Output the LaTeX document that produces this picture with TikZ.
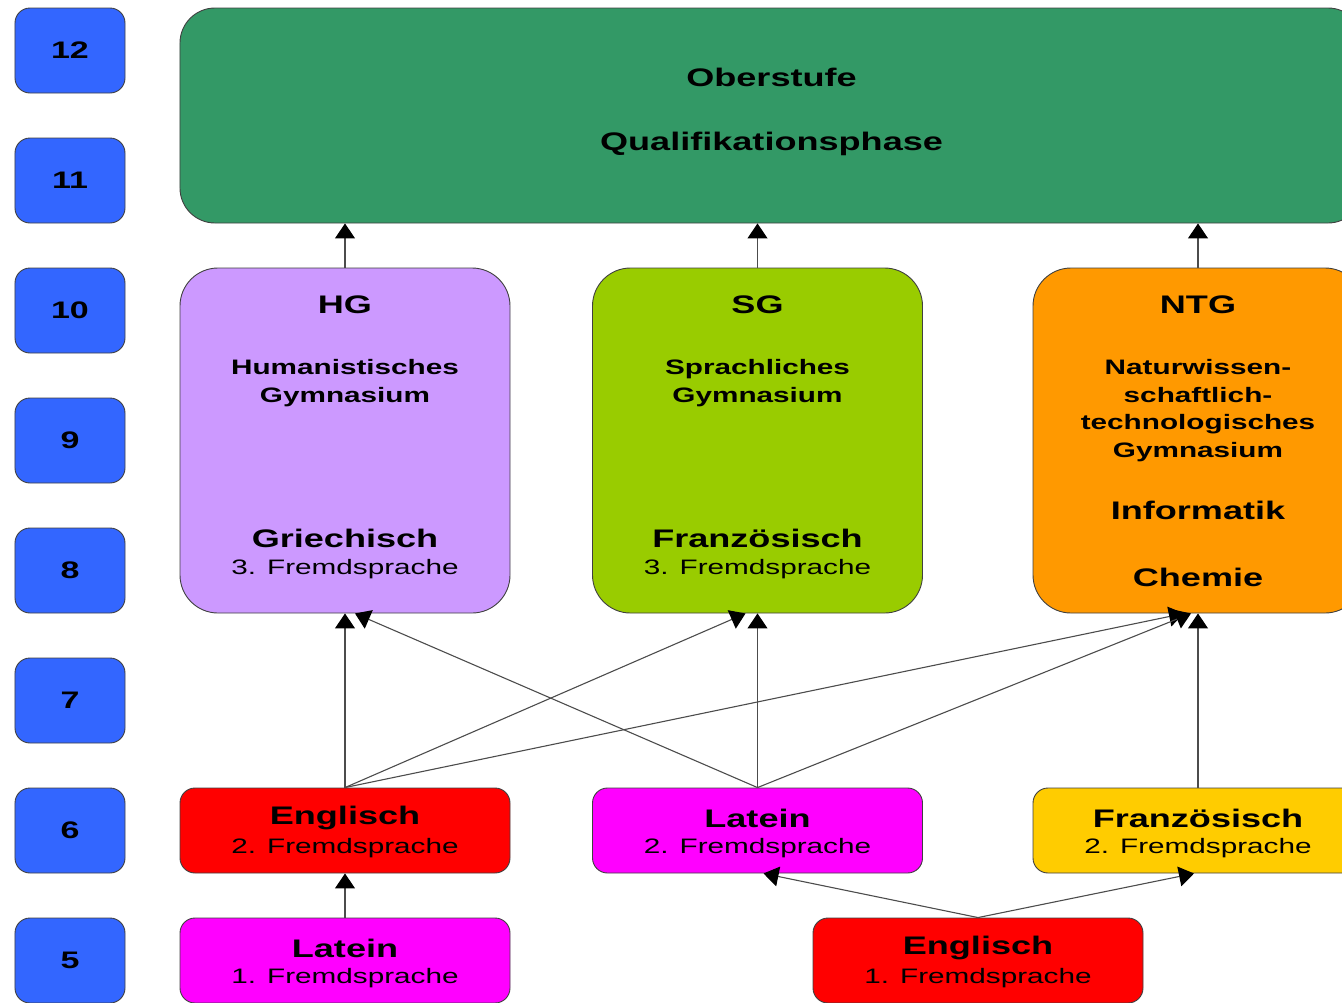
\documentclass[tikz,border=0pt]{standalone}
\usepackage{fontspec}
\setmainfont{Liberation Sans}[FakeStretch=1.42]
\usetikzlibrary{arrows.meta}

\definecolor{gradeblue}{HTML}{3366FF}
\definecolor{oberstufe}{HTML}{339966}
\definecolor{hgcol}{HTML}{CC99FF}
\definecolor{sgcol}{HTML}{99CC00}
\definecolor{ntgcol}{HTML}{FF9900}
\definecolor{engcol}{HTML}{FF0000}
\definecolor{latcol}{HTML}{FF00FF}
\definecolor{frzcol}{HTML}{FFCC00}

\begin{document}
\begin{tikzpicture}[x=1bp,y=-1bp,
	box/.style={draw=black!75,line width=0.9bp,rounded corners=#1,inner sep=0pt},
	box/.default=15bp,
	grade/.style={box,fill=gradeblue,minimum width=110bp,minimum height=85bp,
		font=\fontsize{24}{28}\selectfont\bfseries},
	zweig/.style={box=38bp,minimum width=330bp,minimum height=345bp},
	fach/.style={box,minimum width=330bp,minimum height=85bp},
	big/.style={font=\fontsize{25.5}{30}\selectfont\bfseries},
	small/.style={font=\fontsize{21}{27.7}\selectfont\bfseries,align=center},
	fs/.style={font=\fontsize{21}{28}\selectfont},
	link/.style={draw=black!70,line width=1.1bp,-{Triangle[width=20bp,length=15bp,black]}}]

	\path[use as bounding box] (0,0) rectangle (1342,1002);
	\clip (0,0) rectangle (1342,1002);

	% Jahrgangsstufen
	\foreach \g [count=\i from 0] in {12,11,10,9,8,7,6,5}
		\node[grade] (g\g) at (70,{50.5+130*\i}) {\g};

	% Oberstufe
	\node[box=35bp,fill=oberstufe,minimum width=1183bp,minimum height=215bp] (ober) at (771.5,115.5) {};
	\node[big] (obert) at (771.5,77) {Oberstufe};
	\node[big] (qual) at (771.5,144) {Qualifikationsphase};

	% Zweige
	\node[zweig,fill=hgcol] (hg) at (345,440.5) {};
	\node[zweig,fill=sgcol] (sg) at (757.5,440.5) {};
	\node[zweig,fill=ntgcol] (ntg) at (1198,440.5) {};

	\node[big] (hgt) at (345,305) {HG};
	\node[small] (hgs) at (345,383) {Humanistisches\\Gymnasium};
	\node[big] (hgf) at (345,538) {Griechisch};
	\node[fs] (hgfs) at (345,569) {3. Fremdsprache};

	\node[big] (sgt) at (757.5,305) {SG};
	\node[small] (sgs) at (757.5,383) {Sprachliches\\Gymnasium};
	\node[big] (sgf) at (757.5,538) {Französisch};
	\node[fs] (sgfs) at (757.5,569) {3. Fremdsprache};

	\node[big] (ntgt) at (1198,305) {NTG};
	\node[small] (ntgs) at (1198,410.5) {Naturwissen-\\schaftlich-\\technologisches\\Gymnasium};
	\node[big] (ntgi) at (1198,510) {Informatik};
	\node[big] (ntgc) at (1198,577) {Chemie};

	% Fremdsprachen
	\node[fach,fill=engcol] (eng2) at (345,830.5) {};
	\node[fach,fill=latcol] (lat2) at (757.5,830.5) {};
	\node[fach,fill=frzcol] (frz2) at (1198,830.5) {};
	\node[fach,fill=latcol] (lat1) at (345,960.5) {};
	\node[fach,fill=engcol] (eng1) at (978,960.5) {};

	\node[big] (eng2t) at (345,818) {Englisch};
	\node[fs] (eng2s) at (345,848) {2. Fremdsprache};
	\node[big] (lat2t) at (757.5,818) {Latein};
	\node[fs] (lat2s) at (757.5,848) {2. Fremdsprache};
	\node[big] (frz2t) at (1198,818) {Französisch};
	\node[fs] (frz2s) at (1198,848) {2. Fremdsprache};
	\node[big] (lat1t) at (345,948) {Latein};
	\node[fs] (lat1s) at (345,978) {1. Fremdsprache};
	\node[big] (eng1t) at (978,948) {Englisch};
	\node[fs] (eng1s) at (978,978) {1. Fremdsprache};

	% Pfeile
	\draw[link] (hg.north) -- (hg.north |- ober.south);
	\draw[link] (sg.north) -- (sg.north |- ober.south);
	\draw[link] (ntg.north) -- (ntg.north |- ober.south);

	\draw[link] (eng2.north) -- (hg.south);
	\draw[link] (eng2.north) -- ([xshift=-12bp]sg.south);
	\draw[link] (eng2.north) -- ([xshift=-14bp]ntg.south);
	\draw[link] (lat2.north) -- ([xshift=10bp]hg.south);
	\draw[link] (lat2.north) -- (sg.south);
	\draw[link] (lat2.north) -- ([xshift=-7bp]ntg.south);
	\draw[link] (frz2.north) -- (ntg.south);

	\draw[link] (lat1.north) -- (eng2.south);
	\draw[link] (eng1.north) -- ([xshift=6bp]lat2.south);
	\draw[link] (eng1.north) -- ([xshift=-4bp]frz2.south);

\end{tikzpicture}
\end{document}
